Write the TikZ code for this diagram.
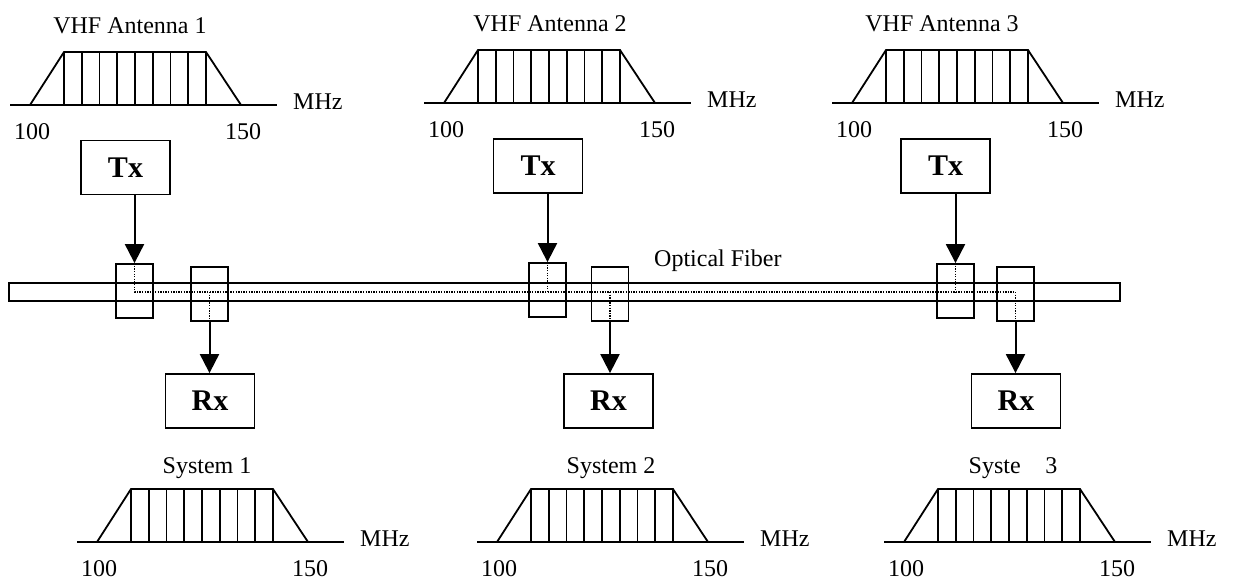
\documentclass[tikz,border=0pt]{standalone}
\usepackage{fontspec}
\setmainfont{Liberation Serif}
\usetikzlibrary{arrows.meta}
\tikzset{
  specline/.style={line width=1.8pt},
  lbl/.style={inner sep=0pt, font=\fontsize{24}{28}\selectfont},
  unitbox/.style={draw, line width=1.8pt, minimum width=89pt, minimum height=54pt, inner sep=0pt, font=\fontsize{30}{34}\selectfont\bfseries},
  coupler/.style={draw, line width=1.8pt, minimum width=37pt, minimum height=54pt, inner sep=0pt},
  fiberbox/.style={draw, line width=1.8pt, minimum width=1111pt, minimum height=18pt, inner sep=0pt},
  sig/.style={line width=2pt, -{Triangle[length=19pt,width=19pt]}},
  light/.style={line width=1.2pt, dash pattern=on 1.3pt off 1.3pt},
}
\newcommand\myspec[6]{%
  % #1 x of baseline start, #2 y of baseline, #3 title, #4 title x offset, #5 title y offset, #6 name prefix
  \draw[specline] (#1,#2) -- ++(267,0);
  \draw[specline] (#1+20,#2) -- (#1+54,#2-53) -- (#1+196,#2-53) -- (#1+231,#2);
  \foreach \k in {0,...,8} \draw[specline] ({#1+54+\k*17.75},#2) -- ++(0,-53);
  \node[lbl, anchor=base] (#6title) at (#1+#4,#2+#5) {#3};
  \node[lbl, anchor=base] (#6lo) at (#1+22,#2+34) {100};
  \node[lbl, anchor=base] (#6hi) at (#1+233,#2+34) {150};
  \node[lbl, anchor=base west] (#6unit) at (#1+283,#2+4) {MHz};
}
\begin{document}
\begin{tikzpicture}[x=1pt,y=-1pt]
\useasboundingbox (0,0) rectangle (1233,579);

% spectra
\myspec{10}{105}{VHF Antenna 1}{120}{-72}{sa}
\myspec{424}{103}{VHF Antenna 2}{126}{-72}{sb}
\myspec{832}{103}{VHF Antenna 3}{110}{-72}{sc}
\myspec{77}{542}{System 1}{130}{-69}{ra}
\myspec{477}{542}{System 2}{134}{-69}{rb}
\myspec{884}{542}{Syste\phantom{m} 3}{129}{-69}{rc}

% fiber
\node[fiberbox] (fiber) at (564.5,292) {};
\node[lbl, anchor=base west] (fibertxt) at (654,266) {Optical Fiber};

% couplers
\node[coupler] (c1t) at (134.5,291) {};
\node[coupler] (c1r) at (209.5,294) {};
\node[coupler] (c2t) at (547.5,290) {};
\node[coupler] (c2r) at (610,294) {};
\node[coupler] (c3t) at (955.5,291) {};
\node[coupler] (c3r) at (1015.5,294) {};

% Tx / Rx
\node[unitbox] (tx1) at (125.5,167.5) {Tx};
\node[unitbox] (tx2) at (538,166) {Tx};
\node[unitbox] (tx3) at (945.5,166) {Tx};
\node[unitbox] (rx1) at (210,401) {Rx};
\node[unitbox] (rx2) at (608.5,401) {Rx};
\node[unitbox] (rx3) at (1016,401) {Rx};

% light path (dotted)
\coordinate (p1) at (c1t.center |- fiber.center);
\coordinate (p3) at (c3r.center |- fiber.center);
\draw[light] (c1t.north) -- (p1) -- (p3) -- (c3r.south);
\draw[light] (c2t.north) -- (c2t.north |- fiber.center);
\draw[light] (c3t.north) -- (c3t.north |- fiber.center);
\draw[light] (c1r.center |- fiber.center) -- (c1r.south);
\draw[light] (c2r.center |- fiber.center) -- (c2r.south);

% arrows
\draw[sig] (tx1.south -| c1t.north) -- (c1t.north);
\draw[sig] (tx2.south -| c2t.north) -- (c2t.north);
\draw[sig] (tx3.south -| c3t.north) -- (c3t.north);
\draw[sig] (c1r.south) -- (rx1.north -| c1r.south);
\draw[sig] (c2r.south) -- (rx2.north -| c2r.south);
\draw[sig] (c3r.south) -- (rx3.north -| c3r.south);
\end{tikzpicture}
\end{document}
